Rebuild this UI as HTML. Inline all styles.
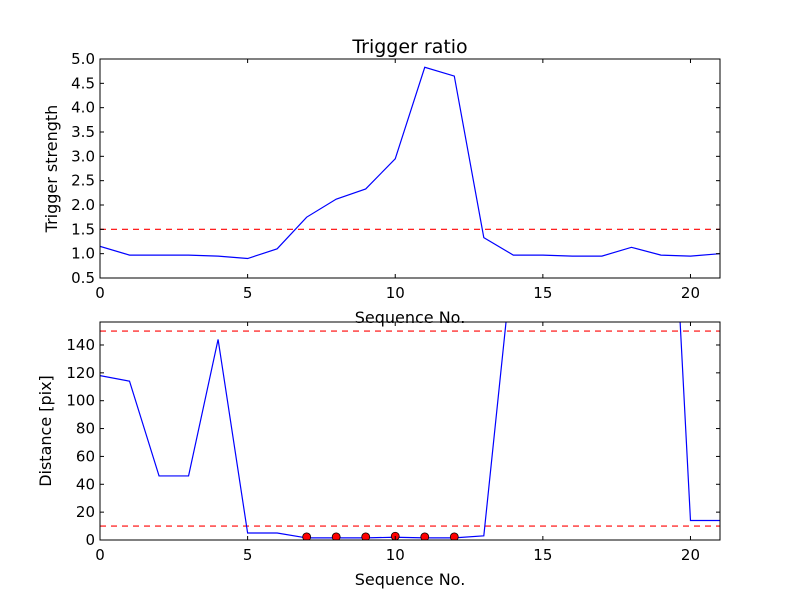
<!DOCTYPE html>
<html><head><meta charset="utf-8"><style>
body{margin:0;background:#fff;}
svg text{font-family:"DejaVu Sans","Liberation Sans",sans-serif;}
</style></head><body>
<svg id="c" width="800" height="600" xmlns="http://www.w3.org/2000/svg"></svg>
<script>
const seq = [0,1,2,3,4,5,6,7,8,9,10,11,12,13,14,15,16,17,18,19,20,21];
const ratio = [1.15,0.97,0.97,0.97,0.95,0.9,1.1,1.75,2.12,2.33,2.95,4.83,4.65,1.33,0.97,0.97,0.95,0.95,1.13,0.97,0.95,1.0];
const dist = [118,114,46,46,144,5,5,1.5,1.5,1.5,2,1.5,1.5,3,207,300,300,300,300,420,14,14];
const markedIdx = [7,8,9,10,11,12];
const ratioThresh = [1.5];
const distThresh = [150,10];
const xTicks = [0,5,10,15,20];
const yTicksTop = [0.5,1.0,1.5,2.0,2.5,3.0,3.5,4.0,4.5,5.0];
const yTicksBot = [0,20,40,60,80,100,120,140];

const svg=document.getElementById('c');const NS='http://www.w3.org/2000/svg';
function mk(t,a,p){const e=document.createElementNS(NS,t);for(const k in a)e.setAttribute(k,a[k]);(p||svg).appendChild(e);return e;}
function panel(o){
  const g=mk('g',{});
  
  
  const X=v=>o.x0+(v-0)/(21-0)*(o.x1-o.x0);
  const Y=v=>o.y1-(v-o.ymin)/(o.ymax-o.ymin)*(o.y1-o.y0);
  const cid='clip'+o.name;
  const cp=mk('clipPath',{id:cid},g);mk('rect',{x:o.x0,y:o.y0,width:o.x1-o.x0,height:o.y1-o.y0},cp);
  const pg=mk('g',{'clip-path':'url(#'+cid+')'},g);
  o.th.forEach(t=>{const l=mk('line',{x1:o.x0,x2:o.x1,y1:Y(t),y2:Y(t),stroke:'#f00','stroke-width':1.2,'stroke-dasharray':'6,5'},pg);
    });
  const p=mk('polyline',{points:seq.map((s,i)=>X(s)+','+Y(o.data[i])).join(' '),fill:'none',stroke:'#00f','stroke-width':1.2},pg);
  
  (o.marks||[]).forEach(i=>{const c=mk('circle',{cx:X(seq[i]),cy:Y(o.data[i])-1,r:4,fill:'#f00',stroke:'#000','stroke-width':0.8},pg);
    });
  mk('rect',{x:o.x0,y:o.y0,width:o.x1-o.x0,height:o.y1-o.y0,fill:'none',stroke:'#000','stroke-width':1},g);
  xTicks.forEach(t=>{const x=X(t);mk('line',{x1:x,x2:x,y1:o.y1,y2:o.y1-4,stroke:'#000'},g);mk('line',{x1:x,x2:x,y1:o.y0,y2:o.y0+4,stroke:'#000'},g);
    const tx=mk('text',{x:x,y:o.y1+20,'text-anchor':'middle','font-size':15},g);tx.textContent=t;
    });
  o.yt.forEach(t=>{const y=Y(t);mk('line',{x1:o.x0,x2:o.x0+4,y1:y,y2:y,stroke:'#000'},g);mk('line',{x1:o.x1,x2:o.x1-4,y1:y,y2:y,stroke:'#000'},g);
    const tx=mk('text',{x:o.x0-5,y:y+5,'text-anchor':'end','font-size':15},g);tx.textContent=o.fmt(t);
    });
  const xl=mk('text',{x:(o.x0+o.x1)/2,y:o.y1+45,'text-anchor':'middle','font-size':16},g);xl.textContent='Sequence No.';
  
  const yl=mk('text',{x:0,y:0,'text-anchor':'middle','font-size':16,transform:`translate(${o.ylx},${(o.y0+o.y1)/2}) rotate(-90)`},g);yl.textContent=o.ylabel;
  
}
panel({name:'top-panel',x0:100,x1:720,y0:59,y1:278,ymin:0.5,ymax:5.0,data:ratio,th:ratioThresh,yt:yTicksTop,fmt:t=>t.toFixed(1),ylabel:'Trigger strength',ylx:57});
panel({name:'bottom-panel',x0:100,x1:720,y0:322,y1:540,ymin:0,ymax:156.5,data:dist,th:distThresh,yt:yTicksBot,fmt:t=>t,marks:markedIdx,ylabel:'Distance [pix]',ylx:51});
const t=mk('text',{x:410,y:53,'text-anchor':'middle','font-size':19});t.textContent='Trigger ratio';

</script>
</body></html>
